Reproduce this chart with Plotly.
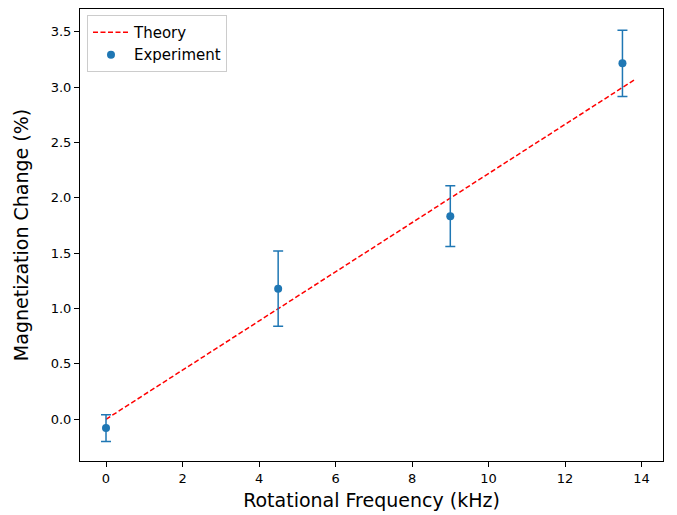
import plotly.graph_objects as go

freq = [0, 4.5, 9, 13.5]
mag = [-0.08, 1.18, 1.835, 3.215]
err = [0.12, 0.34, 0.275, 0.30]
theory_x = [0, 13.83]
theory_y = [0, 3.07]

fig = go.Figure()
fig.add_trace(go.Scatter(
    x=theory_x, y=theory_y, mode="lines", name="Theory",
    line=dict(color="red", width=1.5, dash="5px,2.5px"),
))
fig.add_trace(go.Scatter(
    x=freq, y=mag, mode="markers", name="Experiment",
    marker=dict(color="#1f77b4", size=8),
    error_y=dict(type="data", array=err, visible=True, color="#1f77b4",
                 thickness=1.5, width=5),
))

axis_common = dict(
    showline=True, linecolor="black", linewidth=1, mirror=True,
    ticks="outside", ticklen=5, tickcolor="black", tickwidth=1,
    showgrid=False, zeroline=False, automargin=False,
    tickfont=dict(family="DejaVu Sans", size=13, color="black"),
)

fig.update_layout(
    width=677, height=515,
    margin=dict(l=72, r=22, t=1, b=62),
    plot_bgcolor="white", paper_bgcolor="white",
    font=dict(family="DejaVu Sans", color="black"),
    xaxis=dict(range=[-0.68, 14.56], tickvals=[0, 2, 4, 6, 8, 10, 12, 14],
               title=dict(text="Rotational Frequency (kHz)",
                          font=dict(size=19), standoff=9),
               **axis_common),
    yaxis=dict(range=[-0.377, 3.706],
               tickvals=[0.0, 0.5, 1.0, 1.5, 2.0, 2.5, 3.0, 3.5],
               ticktext=["0.0", "0.5", "1.0", "1.5", "2.0", "2.5", "3.0", "3.5"],
               title=dict(text="Magnetization Change (%)",
                          font=dict(size=19), standoff=17),
               **axis_common),
    legend=dict(x=0.012, y=0.987, xanchor="left", yanchor="top",
                bgcolor="rgba(255,255,255,0.8)", bordercolor="#cccccc",
                borderwidth=1, font=dict(size=15), itemwidth=36),
    showlegend=True,
)

fig.write_html("out.html")
